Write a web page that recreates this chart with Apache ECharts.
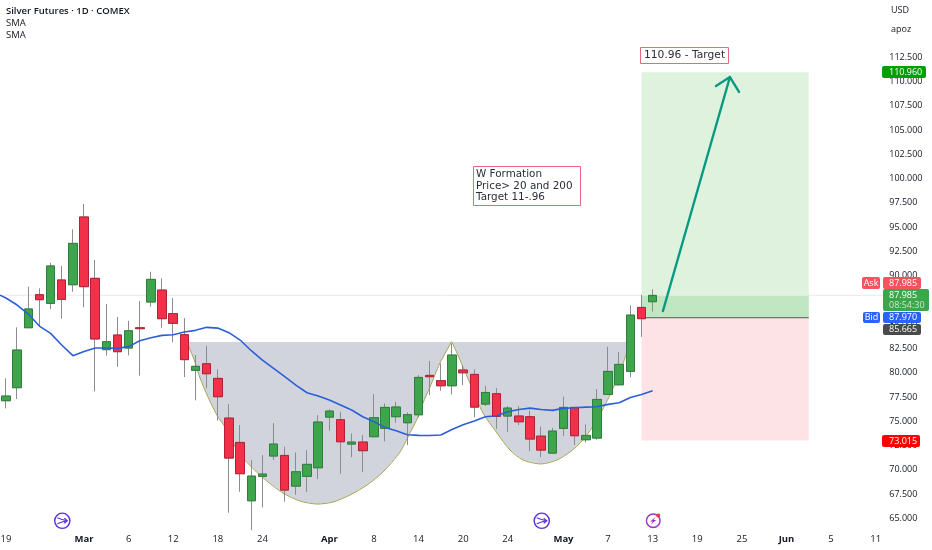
<!DOCTYPE html>
<html><head><meta charset="utf-8">
<style>html,body{margin:0;padding:0;background:#fff}#c{width:932px;height:550px}</style>
<script src="https://cdn.jsdelivr.net/npm/echarts@6/dist/echarts.min.js"></script>
</head><body><div id="c"></div>
<script>
const opens=[77.12,78.46,84.64,88.04,87.15,89.56,89.07,96.05,89.73,82.38,83.89,82.55,84.64,87.29,88.52,86.09,83.92,80.25,80.93,79.42,75.33,72.82,66.81,69.32,71.42,71.48,68.32,69.32,70.21,75.43,75.16,72.65,72.86,73.41,74.27,75.47,74.85,75.67,79.73,79.18,78.66,80.28,79.83,76.77,77.84,75.54,75.54,75.47,73.47,71.72,74.26,76.43,73.10,73.27,77.77,78.76,80.14,86.73,87.32];
const closes=[77.60,82.34,86.57,87.53,91.00,87.56,93.33,88.87,83.48,83.20,82.17,84.33,84.54,89.62,85.57,85.09,81.35,80.66,79.90,77.53,71.21,69.60,69.35,69.56,72.65,67.91,69.80,70.56,74.92,76.05,72.89,72.86,71.97,75.37,76.43,76.47,75.68,79.52,79.59,78.66,81.82,80.00,76.46,77.97,75.50,76.36,74.95,73.17,72.03,73.99,76.43,73.51,73.54,77.25,80.14,80.86,85.94,85.57,87.97];
const highs=[79.42,84.68,88.87,88.70,91.34,91.00,94.78,97.39,91.62,87.08,85.74,85.36,87.39,90.41,89.73,87.70,85.64,81.83,82.79,80.35,76.77,74.61,71.00,71.52,74.82,72.38,71.79,72.03,75.64,76.22,75.98,73.75,73.58,77.80,76.84,77.01,75.92,79.76,81.20,80.96,83.02,80.79,80.34,78.63,78.42,76.57,76.57,76.08,74.44,74.33,77.53,76.50,74.68,78.32,82.68,82.13,86.94,88.04,88.59];
const lows=[76.33,77.29,84.64,84.75,86.57,85.57,88.35,86.74,78.08,81.76,80.62,81.79,79.70,86.81,84.64,83.13,79.56,77.16,78.39,75.06,65.58,67.74,63.79,66.13,71.00,66.71,67.43,67.71,69.05,74.03,69.60,71.31,69.77,73.34,72.93,74.85,72.55,75.40,77.70,78.15,77.77,78.73,75.40,76.57,74.20,73.89,74.61,71.93,71.31,71.62,73.47,72.55,72.82,73.10,77.70,78.70,79.52,83.71,86.32];
const smaValues=[87.70,86.98,86.05,84.81,84.06,82.86,81.76,82.20,82.55,82.55,82.51,82.69,83.30,83.61,83.85,83.92,84.20,84.37,84.68,84.60,84.13,83.37,82.27,81.31,80.45,79.59,78.73,77.94,77.60,77.19,76.67,76.16,75.47,74.95,74.37,74.03,73.61,73.55,73.54,73.58,74.16,74.64,75.02,75.47,75.57,75.98,76.22,76.36,76.22,76.12,76.33,76.39,76.46,76.50,76.74,76.91,77.46,77.77,78.15];
const smaLead=[-0.54,88.0];
const tickBars=[0,7,11,15,19,23,29,33,37,41,45,50,54,58,62,66,70,74,78];
const tickLabels=['19','Mar','6','12','18','24','Apr','8','14','20','24','May','7','13','19','25','Jun','5','11'];
const monthLabels=['Mar','Apr','May','Jun'];
const slotCount=79;
const formationBars=[16.23,16.95,17.40,18.12,18.92,19.64,20.36,21.26,22.96,24.84,26.37,27.89,29.33,30.85,32.38,33.81,35.34,36.05,36.95,37.40,38.03,38.92,39.97,40.45,40.99,41.88,42.78,44.04,45.20,46.37,47.98,49.42,50.58,51.75,53.00,54.17,55.07,55.70,56.05];
const formationPrices=[83.17,81.10,79.46,77.50,75.64,74.41,72.76,71.21,69.26,67.61,66.78,66.47,66.68,67.40,68.43,69.77,71.83,73.38,75.44,76.88,78.53,81.00,83.20,82.03,80.59,78.22,75.85,73.79,72.04,71.01,70.60,71.01,71.83,73.07,75.13,77.70,80.07,82.14,83.17];
const formationPeak=22;
const targetPrice=110.96, entryPrice=85.665, stopPrice=73.015, lastPrice=87.985;
const boxBars=[57,72];
const arrowBars=[58.92,64.93,63.68,65.74];
const arrowPrices=[86.36,110.47,109.54,108.93];
const eventBars=[5.05,48.05];
const flashBar=58.05;
const eventPrice=64.75;

const months=new Set(monthLabels);
const categories=Array.from({length:slotCount},(_,i)=>{const k=tickBars.indexOf(i);return k<0?'':tickLabels[k];});
const up='#3fa54d',upB='#2f7f3c',dn='#f2304a',dnB='#b32136';
const font='"Open Sans","Noto Sans",sans-serif';

function overlay(z,children){
  return {type:'custom',xAxisIndex:1,yAxisIndex:0,z:z,silent:true,clip:false,data:[[0,70]],encode:{x:0,y:1},
    renderItem:(p,api)=>({type:'group',children:children(api)})};
}
function rectOf(api,b0,b1,p0,p1,fill){
  const a=api.coord([b0,p0]),c=api.coord([b1,p1]);
  return {type:'rect',shape:{x:a[0],y:a[1],width:c[0]-a[0],height:c[1]-a[1]},style:{fill:fill}};
}
function tag(x,y,w,h,fill,text,tx){
  const out=[{type:'rect',z:100,shape:{x,y,width:w,height:h,r:2},style:{fill}}];
  if(text)out.push({type:'text',z:101,style:{x:tx==null?x+w/2:tx,y:y+h/2,text,fill:'#fff',font:'9px '+font,textAlign:tx==null?'center':'left',textVerticalAlign:'middle'}});
  return out;
}
function note(x,y,w,h,lines,fs,lh,pad){
  const out=[{type:'rect',z:60,shape:{x:x,y:y,width:w,height:h},style:{fill:'#fff',stroke:'#e8697f',lineWidth:1}}];
  lines.forEach((t,i)=>out.push({type:'text',z:61,style:{x:x+pad,y:y+2.5+lh/2+i*lh,text:t,fill:'#2a2e39',font:fs+'px "DejaVu Sans",sans-serif',textVerticalAlign:'middle'}}));
  return out;
}
function plain(x,y,text,weight,size,color){
  return {type:'text',z:101,style:{x,y,text,fill:color||'#131722',font:(weight||'normal')+' '+(size||10)+'px '+font,textVerticalAlign:'middle'}};
}

const chart=echarts.init(document.getElementById('c'),null,{renderer:'canvas'});
chart.setOption({
  animation:false,backgroundColor:'#fff',
  grid:{left:0.4,right:50.75,top:8.8,bottom:7.4,containLabel:false,outerBoundsMode:'none'},
  xAxis:[
    {type:'category',data:categories,boundaryGap:true,axisLine:{show:false},axisTick:{show:false},splitLine:{show:false},
     axisLabel:{interval:0,hideOverlap:false,showMinLabel:true,showMaxLabel:true,margin:-8,fontFamily:font,fontSize:9.5,color:'#131722',
       formatter:v=>months.has(v)?'{b|'+v+'}':v,rich:{b:{fontWeight:'bold',fontFamily:font,fontSize:9.5,color:'#131722'}}}},
    {type:'value',min:-0.5,max:slotCount-0.5,show:false,splitLine:{show:false}}
  ],
  yAxis:{type:'value',position:'right',min:62.5,max:117.5,interval:2.5,scale:true,axisLine:{show:false},axisTick:{show:false},splitLine:{show:false},
    axisLabel:{margin:8,fontFamily:font,fontSize:9,color:'#131722',showMinLabel:false,
      formatter:v=>v>112.5||v<65?'':v.toFixed(3)}},
  series:[
    overlay(1,api=>{
      const pts=formationBars.map((b,i)=>api.coord([b,formationPrices[i]]));
      const s={fill:'none',stroke:'#a5a552',lineWidth:1};
      return [
        {type:'polygon',shape:{points:pts},style:{fill:'#d1d4dc'}},
        {type:'polyline',shape:{points:pts.slice(0,formationPeak+1),smooth:0.25},style:s},
        {type:'polyline',shape:{points:pts.slice(formationPeak),smooth:0.25},style:s}
      ];
    }),
    overlay(1,api=>{
      const a=api.coord([-0.54,lastPrice]),e=api.coord([79,lastPrice]);
      const l=api.coord([boxBars[0],entryPrice]),r=api.coord([boxBars[1],entryPrice]);
      return [
        rectOf(api,boxBars[0],boxBars[1],entryPrice,targetPrice,'#dff2dd'),
        rectOf(api,boxBars[0],boxBars[1],entryPrice,lastPrice,'#c1e6c2'),
        rectOf(api,boxBars[0],boxBars[1],stopPrice,entryPrice,'#fde3e5'),
        {type:'line',shape:{x1:a[0],y1:a[1],x2:e[0],y2:e[1]},style:{stroke:'#e9e9e9',lineWidth:1}},
        {type:'line',shape:{x1:l[0],y1:l[1],x2:r[0],y2:r[1]},style:{stroke:'#555',lineWidth:1.2}}
      ];
    }),
    {type:'candlestick',name:'wicks',z:3,silent:true,barWidth:9,clip:false,
      data:opens.map((o,i)=>[o,closes[i],lows[i],highs[i]]),
      itemStyle:{color:'rgba(0,0,0,0)',color0:'rgba(0,0,0,0)',borderColor:'#8c8c8c',borderColor0:'#8c8c8c',borderWidth:1}},
    {type:'candlestick',name:'Silver Futures',z:4,silent:true,barWidth:9,clip:false,
      data:opens.map((o,i)=>[o,closes[i],Math.min(o,closes[i]),Math.max(o,closes[i])]),
      itemStyle:{color:up,color0:dn,borderColor:upB,borderColor0:dnB,borderWidth:1}},
    {type:'line',name:'SMA',xAxisIndex:1,z:5,silent:true,showSymbol:false,symbol:'none',clip:true,
      data:[smaLead].concat(smaValues.map((v,i)=>[i,v])),lineStyle:{color:'#2b5fd8',width:1.6}},
    overlay(6,api=>{
      const p=arrowBars.map((b,i)=>api.coord([b,arrowPrices[i]]));
      const s={fill:'none',stroke:'#089981',lineWidth:2.4,lineCap:'round',lineJoin:'round'};
      return [
        {type:'polyline',shape:{points:[p[0],p[1]]},style:s},
        {type:'polyline',shape:{points:[p[2],p[1],p[3]]},style:s}
      ];
    }),
    overlay(7,api=>{
      const out=[];
      eventBars.forEach(b=>{
        const c=api.coord([b,eventPrice]);
        out.push({type:'circle',shape:{cx:c[0],cy:c[1],r:7.6},style:{fill:'#fff',stroke:'#5a2fd6',lineWidth:1.4}});
        out.push({type:'polyline',shape:{points:[[c[0]-5,c[1]-3],[c[0]-1,c[1]-1.5],[c[0]+4.5,c[1]]]},style:{fill:'none',stroke:'#5a2fd6',lineWidth:1.2}});
        out.push({type:'polyline',shape:{points:[[c[0]-5,c[1]+3],[c[0]-1,c[1]+1.5],[c[0]+4.5,c[1]]]},style:{fill:'none',stroke:'#5a2fd6',lineWidth:1.2}});
        out.push({type:'polyline',shape:{points:[[c[0]+2,c[1]-2.5],[c[0]+5,c[1]],[c[0]+2,c[1]+2.5]]},style:{fill:'none',stroke:'#5a2fd6',lineWidth:1.2}});
      });
      const f=api.coord([flashBar,eventPrice]);
      out.push({type:'circle',shape:{cx:f[0],cy:f[1],r:6.8},style:{fill:'#fff',stroke:'#a030c8',lineWidth:1.4}});
      out.push({type:'polygon',shape:{points:[[f[0]+2.5,f[1]-4],[f[0]-3,f[1]+0.8],[f[0]-0.3,f[1]+0.8],[f[0]-2.5,f[1]+4],[f[0]+3,f[1]-0.8],[f[0]+0.3,f[1]-0.8]]},style:{fill:'#a030c8'}});
      out.push({type:'circle',shape:{cx:f[0]+5,cy:f[1]-5.2,r:2},style:{fill:'#f23645'}});
      return out;
    })
  ],
  graphic:{elements:[
    plain(6,11,'Silver Futures · 1D · COMEX','600',9.5),
    plain(6,23,'SMA','normal',9.5),
    plain(6,35,'SMA','normal',9.5),
    plain(891,10,'USD','normal',9),
    plain(891,29,'apoz','normal',9),
    ...note(640.5,47.5,88,16,['110.96 - Target'],10.7,11,3.5),
    ...note(473.5,166.5,107,39,['W Formation','Price> 20 and 200','Target 11-.96'],10.4,11.5,2.5),
    ...tag(882,66,44,12,'#00a000','110.960',889),
    ...tag(862,277,18,12,'#f7525f','Ask'),
    ...tag(883,277,38,12,'#f7525f','87.985',889),
    {type:'rect',z:100,shape:{x:883,y:289,width:46,height:22,r:2},style:{fill:'#3ca64b'}},
    plain(889,295.5,'87.985','normal',9,'#fff'),
    plain(889,305,'08:54:30','normal',9,'#c9e8cc'),
    ...tag(863,312,17,11,'#2962ff','Bid'),
    ...tag(883,312,38,11,'#2962ff','87.970',889),
    ...tag(883,324,38,11,'#4a4a4a','85.665',889),
    ...tag(882,435,38,12,'#ff0000','73.015',889)
  ]}
});
</script></body></html>
